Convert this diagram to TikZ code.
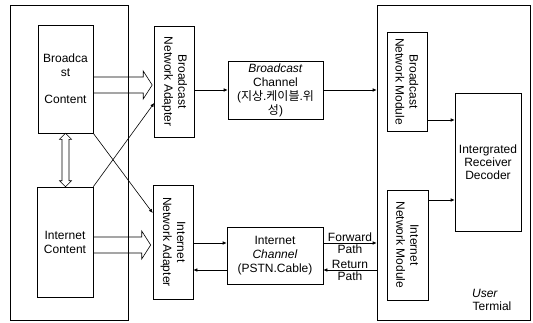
\documentclass[tikz,border=0pt]{standalone}
\usepackage{fontspec}
\setmainfont{Liberation Sans}
\newfontfamily\kr{Noto Sans CJK KR}
\usetikzlibrary{arrows.meta, calc}
\tikzset{
  box/.style={draw, line width=0.6pt, inner sep=0pt, align=center},
  vtext/.style={rotate=-90, align=center, inner sep=0pt},
  lbl/.style={inner sep=1.5pt},
  conn/.style={line width=0.6pt, -{Latex[length=4pt,width=3.5pt]}},
  fatarrow/.style={line width=0.6pt, to path={let \p1=(\tikztostart), \p2=(\tikztotarget) in
      (\x1,\y1+8pt) -- (\x2-11pt,\y1+8pt) -- (\x2-11pt,\y1+14pt) -- (\x2-2pt,\y1)
      -- (\x2-11pt,\y1-14pt) -- (\x2-11pt,\y1-8pt) -- (\x1,\y1-8pt)}},
  vdouble/.style={line width=0.6pt, to path={let \p1=(\tikztostart), \p2=(\tikztotarget) in
      (\x1,\y1) -- (\x1+6pt,\y1-6pt) -- (\x1+3.5pt,\y1-6pt) -- (\x1+3.5pt,\y2+6pt)
      -- (\x1+6pt,\y2+6pt) -- (\x1,\y2) -- (\x1-6pt,\y2+6pt) -- (\x1-3.5pt,\y2+6pt)
      -- (\x1-3.5pt,\y1-6pt) -- (\x1-6pt,\y1-6pt) -- cycle}}
}

\begin{document}
\begin{tikzpicture}[x=1pt, y=-1pt, font=\fontsize{12}{14}\selectfont]
  \useasboundingbox (0,0) rectangle (533,322);

  \node[box, minimum width=118pt, minimum height=315pt] (server) at (69,162.5) {};
  \node[box, minimum width=55pt, minimum height=108pt] (bcont) at (65.5,79)
    {Broadca\\st\\[13pt]Content};
  \node[box, minimum width=56pt, minimum height=110pt] (icont) at (65,242)
    {Internet\\Content};

  \node[box, minimum width=40pt, minimum height=111pt] (bna) at (174.5,81.5) {};
  \node[vtext] (bnatext) at (bna) {Broadcast\\Network Adapter};
  \node[box, minimum width=40pt, minimum height=114pt] (ina) at (173,242) {};
  \node[vtext] (inatext) at (ina) {Internet\\Network Adapter};

  \node[box, minimum width=95pt, minimum height=58pt] (bch) at (275.5,90)
    {\textit{Broadcast}\\Channel\\({\kr 지상}.{\kr 케이블}.{\kr 위}\\{\kr 성})};
  \node[box, minimum width=96pt, minimum height=57pt] (ich) at (275,255.5)
    {Internet\\\textit{Channel}\\(PSTN.Cable)};

  \node[box, minimum width=153pt, minimum height=315pt] (term) at (453.5,162.5) {};
  \node[box, minimum width=40pt, minimum height=99pt] (bnm) at (407,81.5) {};
  \node[vtext] (bnmtext) at (bnm) {Broadcast\\Network Module};
  \node[box, minimum width=41pt, minimum height=110pt] (inm) at (407.5,245) {};
  \node[vtext] (inmtext) at (inm) {Internet\\Network Module};
  \node[box, minimum width=66pt, minimum height=138pt, font=\fontsize{12}{13}\selectfont] (ird) at (488,162)
    {Intergrated\\Receiver\\Decoder};
  \node (user) at (485,293) {\textit{User}};
  \node (termial) at (492,306) {Termial};

  \coordinate (bfat) at ([yshift=-6pt]bcont.east);
  \draw[fatarrow] (bfat) to (bfat -| bna.west);
  \coordinate (ifat) at ([yshift=-3pt]icont.east);
  \draw[fatarrow] (ifat) to (ifat -| ina.west);
  \draw[vdouble] (bcont.south) to (bcont.south |- icont.north);

  \draw[conn] (bcont.south east) -- (ina.west |- 0,213);
  \draw[conn] (icont.north east) -- (bna.west |- 0,103);

  \draw[conn] (bna.east |- bch.west) -- (bch.west);
  \draw[conn] (bch.east) -- (bch.east -| term.west);
  \draw[conn] (ina.east |- 0,243) -- (ich.west |- 0,243);
  \draw[conn] (ich.west |- 0,270) -- (ina.east |- 0,270);
  \draw[conn] (ich.east |- 0,243) -- node[above, lbl] (fwd) {Forward}
    node[below, lbl] (fwdpath) {Path} (term.west |- 0,243);
  \draw[conn] (term.west |- 0,270) -- node[above, lbl] (ret) {Return}
    node[below, lbl] (retpath) {Path} (ich.east |- 0,270);
  \draw[conn] (bnm.east |- 0,120) -- (ird.west |- 0,120);
  \draw[conn] (inm.east |- 0,200) -- (ird.west |- 0,200);
\end{tikzpicture}
\end{document}
